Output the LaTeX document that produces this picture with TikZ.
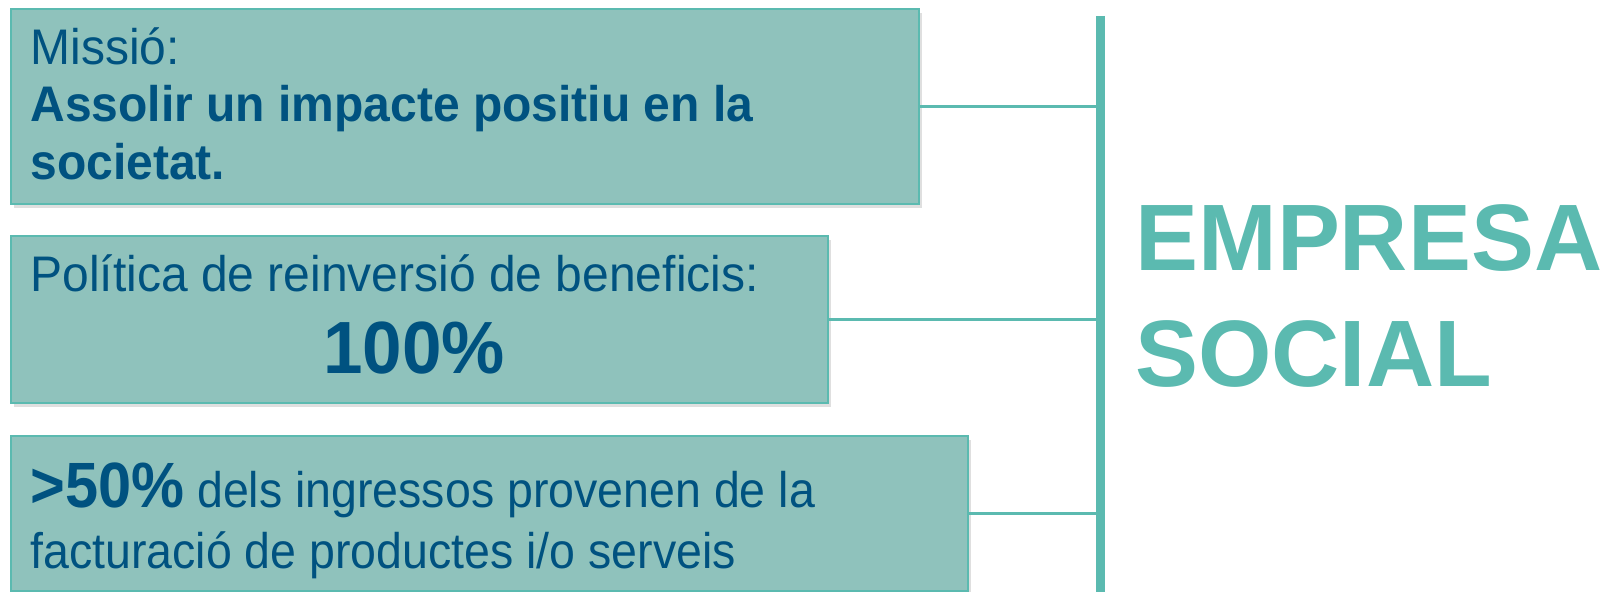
\documentclass[tikz,border=0pt]{standalone}
\usepackage{fontspec}
\setmainfont{Liberation Sans}
\newfontfamily\panelfont{Liberation Sans}[FakeStretch=0.96]
\newfontfamily\narrowfont{Liberation Sans}[FakeStretch=0.93]
\definecolor{teal1}{RGB}{91,186,176}
\definecolor{teal2}{RGB}{143,194,188}
\definecolor{blue1}{RGB}{0,82,128}
\usetikzlibrary{positioning, calc, shadows}

\tikzset{
  panel/.style={draw=teal1, line width=1pt, fill=teal2, anchor=north west, inner sep=0pt,
    drop shadow={opacity=0.25, shadow xshift=1.5pt, shadow yshift=-2pt}},
  textline/.style={anchor=base west, inner sep=0pt, text=blue1, font=\panelfont\fontsize{25}{29}\selectfont},
  link/.style={draw=teal1, line width=1.4pt},
  bar/.style={draw=teal1, line width=4.5pt},
  title/.style={anchor=base west, inner sep=0pt, text=teal1, font=\fontsize{47.2}{58}\selectfont\bfseries}
}

\begin{document}
\begin{tikzpicture}[x=0.5pt, y=-0.5pt]
  \useasboundingbox (0,0) rectangle (1605,592);

  % the three panels
  \node[panel, minimum width=454pt, minimum height=97.5pt] (mission) at (10,8) {};
  \node[panel, minimum width=408.5pt, minimum height=83.5pt] (policy) at (10,235) {};
  \node[panel, minimum width=478.5pt, minimum height=77.5pt] (income) at (10,435) {};

  \node[textline] (mission1) at (30,65) {Missió:};
  \node[textline, font=\panelfont\fontsize{25}{29}\selectfont\bfseries] (mission2) at (30,122) {Assolir un impacte positiu en la};
  \node[textline, font=\panelfont\fontsize{25}{29}\selectfont\bfseries] (mission3) at (30,180) {societat.};

  \node[textline] (policy1) at (30,292) {Política de reinversió de beneficis:};
  \node[textline, anchor=base, font=\panelfont\fontsize{37}{44}\selectfont\bfseries] (policy2) at (414,374) {100\%};

  \node[textline, font=\narrowfont\fontsize{25}{29}\selectfont] (income1) at (30,508) {{\fontsize{32}{38}\selectfont\bfseries >50\%} dels ingressos provenen de la};
  \node[textline, font=\narrowfont\fontsize{25}{29}\selectfont] (income2) at (30,568) {facturació de productes i/o serveis};

  % vertical bar and connectors
  \coordinate (bartop) at (1100,16);
  \coordinate (barbot) at (1100,592);
  \draw[link] (mission.east) -- (mission.east -| bartop);
  \draw[link] (policy.east) -- (policy.east -| bartop);
  \draw[link] (income.east) -- (income.east -| bartop);
  \draw[bar] (bartop) -- (barbot);

  \node[title] (empresa) at (1135,271) {EMPRESA};
  \node[title] (social) at (1135,387) {SOCIAL};
\end{tikzpicture}
\end{document}
